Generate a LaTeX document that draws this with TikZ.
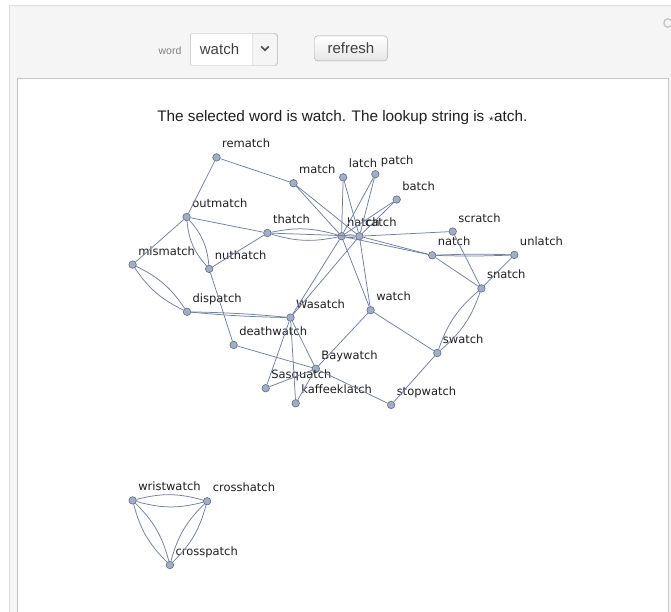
\documentclass[tikz,border=0pt]{standalone}
\usepackage{fontspec}
\setmainfont{Liberation Sans}
\newfontfamily\dejavu{DejaVu Sans}
\definecolor{edgeblue}{RGB}{112,127,160}
\definecolor{vtxfill}{RGB}{163,174,196}
\definecolor{vtxline}{RGB}{92,106,138}
\definecolor{panelgray}{RGB}{245,245,245}
\definecolor{rimgray}{RGB}{220,220,220}
\definecolor{txtgray}{RGB}{30,30,30}

\begin{document}
\begin{tikzpicture}[x=1pt,y=-1pt,
  main node/.style={circle,draw=vtxline,fill=vtxfill,line width=0.6pt,inner sep=0pt,minimum size=7.5pt},
  lbl/.style={anchor=base west,inner sep=0pt,xshift=1.4pt,yshift=9.5pt,text=txtgray,font=\dejavu\fontsize{11.5}{13}\selectfont},
  wnode/.style={main node,label={[lbl]0:#1}},
  every edge/.style={draw=edgeblue,line width=0.75pt},
  ui/.style={text=txtgray!85,inner sep=0pt,font=\fontsize{15}{17}\selectfont}]

  \useasboundingbox (0,0) rectangle (671,611);
  % panels
  \draw[rimgray,fill=panelgray] (9,5) rectangle (690,630);
  \draw[rimgray!90!black,fill=white] (17,78) rectangle (668,630);
  \draw[gray!45,line width=1.4pt] (668,23) circle (4.2);

  % controls
  \node[ui,text=gray,font=\fontsize{10.5}{12}\selectfont] (wordlbl) at (170,50.5) {word};
  \draw[rimgray!85!black,fill=white,rounded corners=2pt] (190.4,33.5) rectangle (277.3,65.5);
  \draw[rimgray!85!black,fill=panelgray] (252.5,33.5) -- (274.8,33.5) -- (277.3,36) -- (277.3,63) -- (274.8,65.5) -- (252.5,65.5) -- cycle;
  \node[ui] (choice) at (219.5,49) {watch};
  \draw[txtgray!80,line width=1.5pt] (261.2,46.5) -- (265,50.3) -- (268.8,46.5);
  \draw[rimgray!75!black,rounded corners=3pt,top color=white,bottom color=rimgray!70] (314.5,35.9) rectangle (387.3,60.8);
  \node[ui] (refresh) at (350.9,48.3) {refresh};

  \node[ui,text=txtgray,font=\fontsize{15.3}{17}\selectfont] (title) at (342.3,117.7)
    {The selected word is watch. The lookup string is {\fontsize{11}{11}\selectfont$\star$}atch.};

  % words
  \node[wnode=rematch] (rematch) at (216.5,157.4) {};
  \node[wnode=match] (match) at (293.5,183.2) {};
  \node[wnode=latch] (latch) at (343.2,177.3) {};
  \node[wnode=patch] (patch) at (375.3,174.2) {};
  \node[wnode=batch] (batch) at (396.7,199.5) {};
  \node[wnode=outmatch] (outmatch) at (186.6,217) {};
  \node[wnode=thatch] (thatch) at (267.4,233) {};
  \node[wnode=hatch] (hatch) at (341.5,236.2) {};
  \node[wnode=catch] (catch) at (359.4,236.2) {};
  \node[wnode=scratch] (scratch) at (452.7,231.5) {};
  \node[wnode=natch] (natch) at (432.2,255.3) {};
  \node[wnode=unlatch] (unlatch) at (514.3,254.9) {};
  \node[wnode=mismatch] (mismatch) at (132.6,264.6) {};
  \node[wnode=nuthatch] (nuthatch) at (209.2,268.9) {};
  \node[wnode=snatch] (snatch) at (481.4,288.4) {};
  \node[wnode=dispatch] (dispatch) at (187,311.8) {};
  \node[wnode=Wasatch] (wasatch) at (290.5,317.6) {};
  \node[wnode=watch] (watch) at (370.6,310.2) {};
  \node[wnode=deathwatch] (deathwatch) at (233.6,344.9) {};
  \node[wnode=swatch] (swatch) at (437.3,353) {};
  \node[wnode=Baywatch] (baywatch) at (315.8,368.7) {};
  \node[wnode=Sasquatch] (sasquatch) at (265.7,388.2) {};
  \node[wnode=kaffeeklatch] (kaffeeklatch) at (295.7,403.3) {};
  \node[wnode=stopwatch] (stopwatch) at (391.1,404.9) {};
  \node[wnode=wristwatch] (wristwatch) at (132.6,500.4) {};
  \node[wnode=crosshatch] (crosshatch) at (207.1,501.2) {};
  \node[wnode=crosspatch] (crosspatch) at (169.9,565) {};

  \path
    (rematch) edge (match) edge (outmatch)
    (outmatch) edge (mismatch) edge (thatch)
      edge[bend left=18] (nuthatch) edge[bend right=18] (nuthatch)
    (nuthatch) edge (thatch) edge (deathwatch)
    (mismatch) edge[bend left=15] (dispatch) edge[bend right=15] (dispatch)
    (dispatch) edge[bend left=2] (wasatch) edge[bend right=2] (wasatch)
    (thatch) edge[bend left=14] (hatch) edge[bend right=14] (hatch) edge (catch)
    (match) edge (hatch) edge (catch)
    (latch) edge (hatch) edge (catch)
    (patch) edge (hatch) edge (catch)
    (batch) edge (hatch) edge (catch)
    (hatch) edge[bend left=12] (catch) edge[bend right=12] (catch) edge (natch)
    (catch) edge (scratch) edge (natch)
    (natch) edge[bend left=2] (unlatch) edge[bend right=2] (unlatch) edge (snatch)
    (scratch) edge (snatch)
    (unlatch) edge (snatch)
    (snatch) edge[bend left=15] (swatch) edge[bend right=15] (swatch)
    (swatch) edge (watch) edge (stopwatch)
    (watch) edge (hatch) edge (catch) edge (baywatch)
    (wasatch) edge (hatch) edge (catch) edge (sasquatch) edge (kaffeeklatch) edge (baywatch)
    (baywatch) edge (deathwatch) edge (sasquatch) edge (stopwatch) edge (kaffeeklatch)
    (wristwatch) edge[bend left=15] (crosshatch) edge[bend right=15] (crosshatch)
      edge[bend left=15] (crosspatch) edge[bend right=15] (crosspatch)
    (crosshatch) edge[bend left=15] (crosspatch) edge[bend right=15] (crosspatch);

\end{tikzpicture}
\end{document}
